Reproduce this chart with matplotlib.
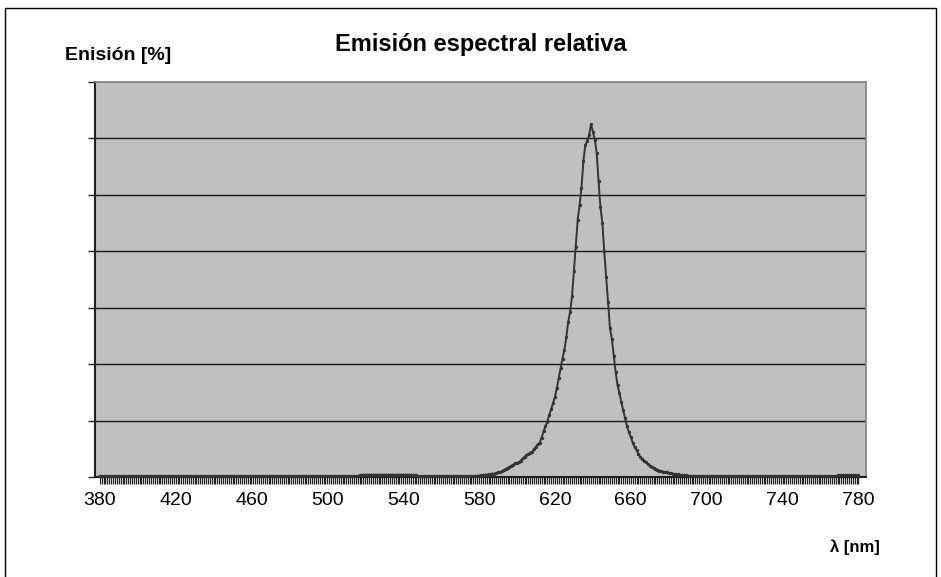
import matplotlib
matplotlib.use("Agg")
import matplotlib.pyplot as plt
from matplotlib.patches import Rectangle

plt.rcParams['font.family'] = ['Liberation Sans', 'DejaVu Sans']

# Wavelength categories, one per nanometre
wavelengths = list(range(380, 781))

# Relative emission [%] for each wavelength, 380 nm .. 780 nm
emission = [
    # 380-399
    0.1, 0.1, 0.1, 0.1, 0.1, 0.1, 0.1, 0.1, 0.1, 0.1, 0.1, 0.1, 0.1, 0.1, 0.1, 0.1, 0.1, 0.1, 0.1, 0.1,
    # 400-419
    0.1, 0.1, 0.1, 0.1, 0.1, 0.1, 0.1, 0.1, 0.1, 0.1, 0.1, 0.1, 0.1, 0.1, 0.1, 0.1, 0.1, 0.1, 0.1, 0.1,
    # 420-439
    0.1, 0.1, 0.1, 0.1, 0.1, 0.1, 0.1, 0.1, 0.1, 0.1, 0.1, 0.1, 0.1, 0.1, 0.1, 0.1, 0.1, 0.1, 0.1, 0.1,
    # 440-459
    0.1, 0.1, 0.1, 0.1, 0.1, 0.1, 0.1, 0.1, 0.1, 0.1, 0.1, 0.1, 0.1, 0.1, 0.1, 0.1, 0.1, 0.1, 0.1, 0.1,
    # 460-479
    0.1, 0.1, 0.1, 0.1, 0.1, 0.1, 0.1, 0.1, 0.1, 0.1, 0.1, 0.1, 0.1, 0.1, 0.1, 0.1, 0.1, 0.1, 0.1, 0.1,
    # 480-499
    0.1, 0.1, 0.1, 0.1, 0.1, 0.1, 0.1, 0.1, 0.1, 0.1, 0.1, 0.1, 0.1, 0.1, 0.1, 0.1, 0.1, 0.1, 0.1, 0.1,
    # 500-519
    0.1, 0.1, 0.1, 0.1, 0.1, 0.1, 0.1, 0.1, 0.1, 0.1, 0.1, 0.1, 0.1, 0.1, 0.1, 0.1, 0.1, 0.3, 0.35, 0.4,
    # 520-539
    0.4, 0.4, 0.4, 0.4, 0.4, 0.4, 0.4, 0.4, 0.4, 0.4, 0.4, 0.4, 0.4, 0.4, 0.4, 0.4, 0.4, 0.4, 0.4, 0.4,
    # 540-559
    0.4, 0.4, 0.4, 0.4, 0.4, 0.4, 0.35, 0.3, 0.1, 0.1, 0.1, 0.1, 0.1, 0.1, 0.1, 0.1, 0.1, 0.1, 0.1, 0.1,
    # 560-579
    0.1, 0.1, 0.1, 0.1, 0.1, 0.1, 0.1, 0.1, 0.1, 0.1, 0.1, 0.1, 0.1, 0.1, 0.1, 0.1, 0.1, 0.15, 0.2, 0.2,
    # 580-599
    0.25, 0.3, 0.3, 0.4, 0.4, 0.5, 0.5, 0.6, 0.6, 0.7, 0.8, 0.8, 1.0, 1.2, 1.4, 1.6, 1.8, 2.0, 2.2, 2.4,
    # 600-619
    2.5, 2.6, 2.9, 3.3, 3.6, 3.9, 4.1, 4.3, 4.5, 4.9, 5.4, 5.8, 6.1, 7.0, 8.1, 9.0, 9.8, 11.0, 12.0, 13.1,
    # 620-639
    14.2, 15.8, 17.6, 19.3, 21.0, 22.5, 24.8, 27.5, 29.3, 32.0, 36.5, 40.8, 45.6, 48.2, 51.3, 56.0, 58.8, 59.6, 60.6, 62.5,
    # 640-659
    61.2, 59.8, 57.5, 52.4, 47.8, 45.0, 40.0, 35.5, 31.0, 26.4, 24.5, 21.5, 18.6, 16.3, 14.8, 13.3, 11.8, 10.4, 9.0, 7.9,
    # 660-679
    7.1, 6.1, 5.3, 4.8, 4.0, 3.6, 3.2, 2.9, 2.6, 2.3, 2.0, 1.8, 1.6, 1.45, 1.3, 1.15, 1.0, 0.95, 0.85, 0.8,
    # 680-699
    0.7, 0.65, 0.6, 0.55, 0.5, 0.45, 0.4, 0.35, 0.3, 0.3, 0.25, 0.2, 0.2, 0.2, 0.15, 0.15, 0.15, 0.15, 0.15, 0.15,
    # 700-719
    0.1, 0.1, 0.1, 0.1, 0.1, 0.1, 0.1, 0.1, 0.1, 0.1, 0.1, 0.1, 0.1, 0.1, 0.1, 0.1, 0.1, 0.1, 0.1, 0.1,
    # 720-739
    0.1, 0.1, 0.1, 0.1, 0.1, 0.1, 0.1, 0.1, 0.1, 0.1, 0.1, 0.1, 0.1, 0.1, 0.1, 0.1, 0.1, 0.1, 0.1, 0.1,
    # 740-759
    0.1, 0.1, 0.1, 0.1, 0.1, 0.1, 0.1, 0.1, 0.1, 0.1, 0.1, 0.1, 0.1, 0.1, 0.1, 0.1, 0.1, 0.1, 0.1, 0.1,
    # 760-779
    0.1, 0.1, 0.1, 0.1, 0.1, 0.1, 0.1, 0.1, 0.1, 0.3, 0.35, 0.35, 0.35, 0.35, 0.35, 0.35, 0.35, 0.35, 0.35, 0.35,
    # 780
    0.35,
]

x_labels = [380, 420, 460, 500, 540, 580, 620, 660, 700, 740, 780]
grid_levels = [0, 10, 20, 30, 40, 50, 60, 70]

title = "Emisión espectral relativa"
y_title = "Enisión [%]"
x_title = "λ [nm]"

W, H = 941, 577
fig = plt.figure(figsize=(W / 100, H / 100), dpi=100)
fig.patch.set_facecolor("white")

# outer chart frame
fig.patches.append(Rectangle((5 / W, -0.05), (936 - 5) / W, 1.05 - 8 / H,
                             transform=fig.transFigure, fill=False,
                             edgecolor="black", linewidth=1.0))

left, right, top, bottom = 95, 866, 82, 477
ax = fig.add_axes([left / W, (H - bottom) / H, (right - left) / W, (bottom - top) / H])
ax.set_facecolor("#C0C0C0")

ax.set_xlim(377.5, 784.0)
ax.set_ylim(0, 70)

for g in grid_levels[1:-1]:
    ax.axhline(g, color="#1a1a1a", linewidth=1.0, zorder=1)

ax.plot(wavelengths, emission, color="#333333", linewidth=1.4,
        marker="o", markersize=2.4, markerfacecolor="#333333",
        markeredgewidth=0, zorder=3, clip_on=False)

# category tick for every wavelength, labels every 40 nm
ax.set_xticks(wavelengths, minor=True)
ax.set_xticks(x_labels)
ax.set_xticklabels([str(v) for v in x_labels])
ax.tick_params(axis="x", which="both", direction="out", length=5, width=0.9,
               color="#222222", pad=6)
ax.tick_params(axis="x", which="major", labelsize=14)

ax.set_yticks(grid_levels)
ax.set_yticklabels([])
ax.tick_params(axis="y", direction="out", length=5, width=1.0, color="#222222")

ax.spines["left"].set_color("#222222")
ax.spines["left"].set_linewidth(1.5)
ax.spines["bottom"].set_color("#222222")
ax.spines["bottom"].set_linewidth(1.5)
ax.spines["top"].set_color("#808080")
ax.spines["right"].set_color("#808080")
ax.spines["top"].set_linewidth(1.2)
ax.spines["right"].set_linewidth(1.2)

fig.text(481 / W, 1 - 45 / H, title, ha="center", va="center",
         fontsize=17, fontweight="bold")
fig.text(65 / W, 1 - 55 / H, y_title, ha="left", va="center",
         fontsize=14, fontweight="bold")
fig.text(880 / W, 1 - 547 / H, x_title, ha="right", va="center",
         fontsize=12, fontweight="bold")

fig.savefig("out.png", dpi=100, facecolor="white")
